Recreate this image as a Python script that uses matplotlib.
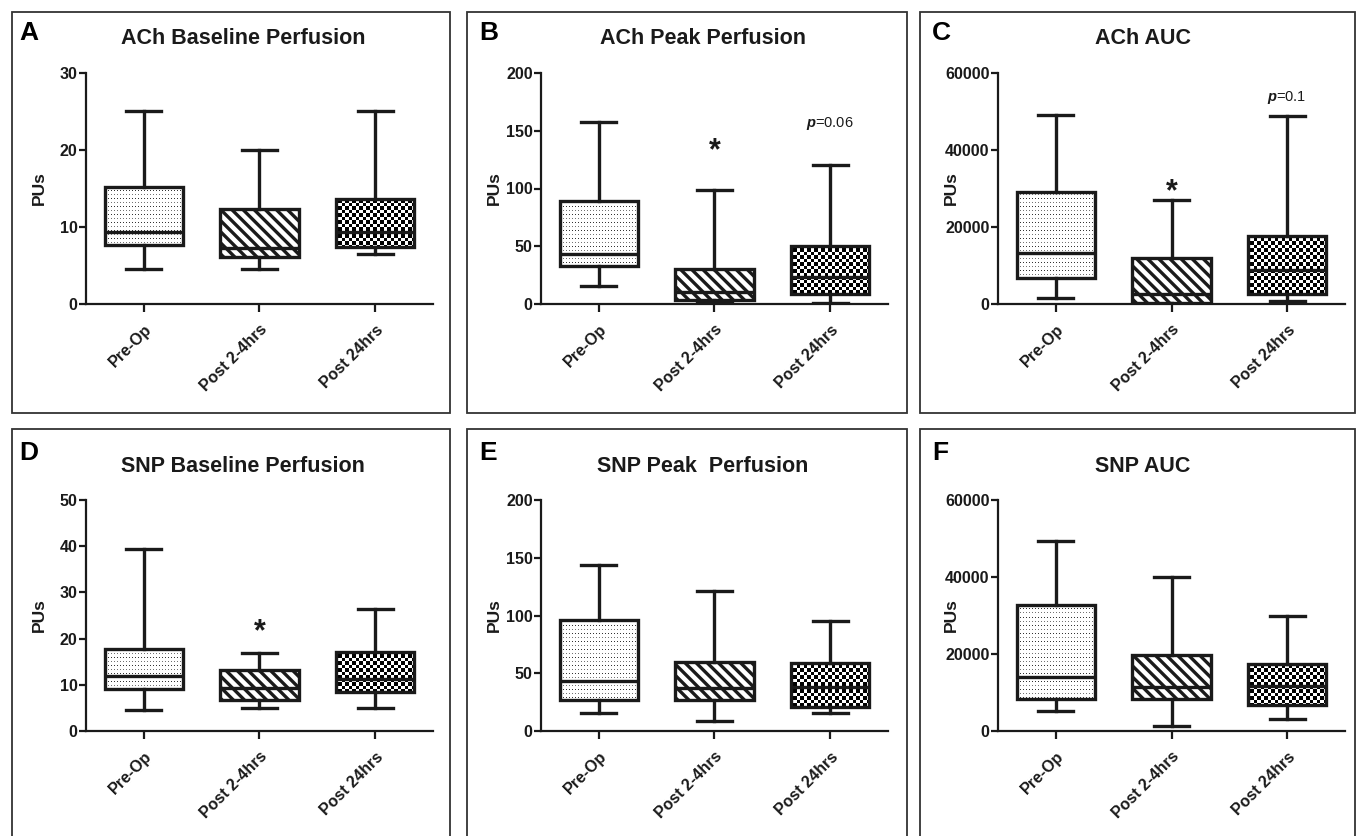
"""Six-panel box plot figure: ACh / SNP perfusion before and after surgery."""
import numpy as np
import matplotlib
matplotlib.use("Agg")
import matplotlib.pyplot as plt
from matplotlib.patches import Rectangle

plt.rcParams['font.family'] = ['Liberation Sans', 'DejaVu Sans']
plt.rcParams['font.weight'] = 'bold'
plt.rcParams['hatch.linewidth'] = 2.4
plt.rcParams['mathtext.fontset'] = 'custom'
plt.rcParams['mathtext.it'] = 'Liberation Sans:italic'
plt.rcParams['mathtext.rm'] = 'Liberation Sans'

groups = ["Pre-Op", "Post 2-4hrs", "Post 24hrs"]

# one row per group: whisker low, Q1, median, Q3, whisker high
ach_baseline = [[4.5, 7.6, 9.4, 15.2, 25.1],
                [4.6, 6.1, 7.3, 12.4, 20.0],
                [6.5, 7.4, 9.4, 13.7, 25.1]]
ach_peak = [[15.5, 32.5, 43.5, 89.0, 157.7],
            [1.0, 3.5, 10.7, 30.1, 98.3],
            [1.0, 8.4, 23.2, 50.4, 120.0]]
ach_auc = [[1600, 6700, 13200, 29100, 49100],
           [100, 300, 2700, 12000, 27100],
           [900, 2600, 8900, 17600, 48900]]
snp_baseline = [[4.5, 9.1, 11.9, 17.7, 39.3],
                [5.0, 6.7, 9.4, 13.2, 16.9],
                [5.0, 8.5, 11.3, 17.0, 26.5]]
snp_peak = [[15.7, 26.8, 43.6, 96.4, 143.7],
            [8.7, 26.8, 37.5, 59.6, 121.0],
            [15.7, 20.4, 38.0, 58.7, 95.0]]
snp_auc = [[5200, 8200, 13900, 32700, 49300],
           [1300, 8200, 11300, 19800, 40100],
           [3000, 6800, 11700, 17500, 29900]]

titles = ["ACh Baseline Perfusion", "ACh Peak Perfusion", "ACh AUC",
          "SNP Baseline Perfusion", "SNP Peak  Perfusion", "SNP AUC"]
letters = ["A", "B", "C", "D", "E", "F"]
y_max = [30, 200, 60000, 50, 200, 60000]
y_step = [10, 50, 20000, 10, 50, 20000]
# significance marks: (panel, group, y, text)
marks = [(1, 1, 132, "*"), (1, 2, 156, r"$p$=0.06"),
         (2, 1, 29100, "*"), (2, 2, 53600, r"$p$=0.1"),
         (3, 1, 21.3, "*")]

panel_data = [ach_baseline, ach_peak, ach_auc, snp_baseline, snp_peak, snp_auc]

W, H = 1357, 836
fig = plt.figure(figsize=(W / 100, H / 100), dpi=100)
ink = "#1a1a1a"

frame_x = [(12, 450), (467, 907), (920, 1355)]
frame_y = [(12, 413), (429, 850)]
axes_x = [(86, 433), (541, 888), (998, 1345)]
axes_y = [(73, 304), (500, 731)]
title_x = [243, 703, 1143]
title_y = [38, 467]
letter_x = [19, 479, 932]
letter_y = [33, 453]


def frac_rect(l, t, r, b):
    return [l / W, 1 - b / H, (r - l) / W, (b - t) / H]


def texture(kind, nx, ny):
    rows = np.arange(ny)[:, None]
    cols = np.arange(nx)[None, :]
    if kind == "dots":
        arr = np.ones((ny, nx))
        arr[(rows % 4 == 1) & (cols % 3 == 1)] = 0.45
        arr[(rows % 8 == 5) & (cols % 3 == 1)] = 0.2
        return arr
    return ((rows * 2 // 7 + cols * 2 // 7) % 2).astype(float)


axes = []
for i in range(6):
    r, c = divmod(i, 3)
    fl, fr = frame_x[c]
    ft, fb = frame_y[r]
    fig.add_artist(Rectangle((fl / W, 1 - fb / H), (fr - fl) / W, (fb - ft) / H,
                             transform=fig.transFigure, fill=False, lw=1.3, ec="#333333"))
    al, ar = axes_x[c]
    at, ab = axes_y[r]
    ax = fig.add_axes(frac_rect(al, at, ar, ab))
    axes.append(ax)

    stats = [dict(whislo=d[0], q1=d[1], med=d[2], q3=d[3], whishi=d[4], fliers=[])
             for d in panel_data[i]]
    bp = ax.bxp(stats, positions=[0, 1, 2], widths=0.68, capwidths=0.3,
                patch_artist=True, showfliers=False,
                boxprops=dict(facecolor="none", edgecolor=ink, lw=2.4),
                medianprops=dict(color=ink, lw=2.4),
                whiskerprops=dict(color=ink, lw=2.4),
                capprops=dict(color=ink, lw=2.4))
    ax.set_xlim(-0.5, 2.5)
    ax.set_ylim(0, y_max[i])

    bb = ax.get_window_extent()
    nx, ny = int(round(bb.width)), int(round(bb.height))
    for g, kind in [(0, "dots"), (2, "checker")]:
        im = ax.imshow(texture(kind, nx, ny), cmap="gray", vmin=0, vmax=1,
                       extent=(-0.5, 2.5, 0, y_max[i]), aspect="auto",
                       interpolation="nearest", zorder=1)
        im.set_clip_path(bp["boxes"][g])
    bp["boxes"][1].set_facecolor("white")
    bp["boxes"][1].set_hatch("\\\\\\")
    ax.set_xlim(-0.5, 2.5)
    ax.set_ylim(0, y_max[i])

    ax.spines[["top", "right"]].set_visible(False)
    for s in ["left", "bottom"]:
        ax.spines[s].set_linewidth(1.6)
        ax.spines[s].set_color(ink)
    ax.set_yticks(np.arange(0, y_max[i] + 1, y_step[i]))
    ax.set_xticks([0, 1, 2])
    ax.set_xticklabels(groups, rotation=45, ha="right", va="top",
                       rotation_mode="anchor", fontsize=10.5, fontweight="bold")
    ax.tick_params(axis="both", colors=ink, width=1.6, labelsize=11.5, length=5)
    ax.tick_params(axis="x", length=6, pad=7)
    ax.tick_params(axis="y", pad=1)
    ax.set_ylabel("PUs", fontsize=12.5, fontweight="bold", color=ink)
    ax.yaxis.set_label_coords(-0.112, 0.5)
    ax.patch.set_visible(False)

    fig.text(title_x[c] / W, 1 - title_y[r] / H, titles[i], ha="center", va="center",
             fontsize=15.5, fontweight="bold", color=ink)
    fig.text(letter_x[c] / W, 1 - letter_y[r] / H, letters[i], ha="left", va="center",
             fontsize=19, fontweight="bold", color="black")

for p, g, y, txt in marks:
    if txt == "*":
        axes[p].text(g, y, txt, ha="center", va="center", fontsize=22,
                     fontweight="bold", color=ink)
    else:
        axes[p].text(g, y, txt, ha="center", va="center", fontsize=10.5,
                     fontweight="normal", color=ink)

fig.savefig("out.png", dpi=100)
